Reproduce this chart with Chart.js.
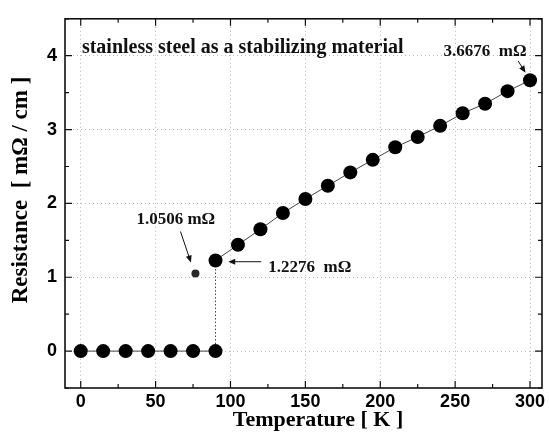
<!DOCTYPE html>
<html>
<head>
<meta charset="utf-8">
<script src="https://cdn.jsdelivr.net/npm/chart.js@4/dist/chart.umd.min.js"></script>
<style>
  html, body { margin: 0; padding: 0; background: #fff; }
  #wrap { width: 549px; height: 432px; }
</style>
</head>
<body>
<div id="wrap"><canvas id="chart" width="549" height="432"></canvas></div>
<script>
// Data
const temps = [0, 15, 30, 45, 60, 75, 90, 90, 105, 120, 135, 150, 165, 180, 195, 210, 225, 240, 255, 270, 285, 300];
const resist = [0, 0, 0, 0, 0, 0, 0, 1.2276, 1.44, 1.65, 1.87, 2.06, 2.24, 2.42, 2.59, 2.76, 2.90, 3.05, 3.22, 3.35, 3.52, 3.6676];
const outlierTemp = [76.6];
const outlierRes = [1.0506];

const xTicks = [0, 50, 100, 150, 200, 250, 300];
const yTicks = [0, 1, 2, 3, 4];
const xTitle = 'Temperature [ K ]';
const yTitle = 'Resistance  [ m\u03A9 / cm ]';

// Text notes, anchored in data units (x, y) with optional arrow (from -> to)
const notes = [
    { text: 'stainless steel as a stabilizing material', x: 0.8, y: 4.11, size: 20, align: 'left' },
    { text: '3.6676  m\u03A9', x: 270, y: 4.06, size: 17, align: 'center', arrow: [292, 3.93, 297, 3.77] },
    { text: '1.0506 m\u03A9', x: 63.5, y: 1.78, size: 17, align: 'center', arrow: [66.6, 1.62, 73.6, 1.20] },
    { text: '1.2276  m\u03A9', x: 153, y: 1.13, size: 17, align: 'center', arrow: [120.5, 1.21, 98.5, 1.21] }
];

const points = temps.map((t, i) => ({ x: t, y: resist[i] }));
const outlier = outlierTemp.map((t, i) => ({ x: t, y: outlierRes[i] }));

const serif = '"Liberation Serif", "Times New Roman", serif';

// Inside ticks, frame, axis titles and notes
const decorPlugin = {
    id: 'decor',
    afterDraw(chart) {
        const ctx = chart.ctx;
        const area = chart.chartArea;
        const xs = chart.scales.x;
        const ys = chart.scales.y;
        ctx.save();
        ctx.strokeStyle = '#111';
        ctx.lineWidth = 1.2;
        ctx.beginPath();
        for (let v = 0; v <= 300; v += 25) {
            const px = xs.getPixelForValue(v);
            const len = v % 50 === 0 ? 7 : 4;
            ctx.moveTo(px, area.bottom); ctx.lineTo(px, area.bottom - len);
            ctx.moveTo(px, area.top); ctx.lineTo(px, area.top + len);
        }
        for (let v = -0.5; v <= 4.5; v += 0.5) {
            const py = ys.getPixelForValue(v);
            const len = Math.abs(v % 1) < 1e-9 ? 7 : 4;
            ctx.moveTo(area.left, py); ctx.lineTo(area.left + len, py);
            ctx.moveTo(area.right, py); ctx.lineTo(area.right - len, py);
        }
        ctx.stroke();

        // frame
        ctx.lineWidth = 1.6;
        ctx.strokeRect(area.left, area.top, area.right - area.left, area.bottom - area.top);

        // axis titles
        ctx.fillStyle = '#000';
        ctx.textAlign = 'center';
        ctx.textBaseline = 'middle';
        ctx.font = 'bold 22px ' + serif;
        ctx.fillText(xTitle, 318, 420);
        ctx.save();
        ctx.translate(21, 190);
        ctx.rotate(-Math.PI / 2);
        ctx.font = 'bold 23px ' + serif;
        ctx.fillText(yTitle, 0, 0);
        ctx.restore();

        // notes
        ctx.fillStyle = '#111';
        notes.forEach(n => {
            ctx.font = 'bold ' + n.size + 'px ' + serif;
            ctx.textAlign = n.align;
            ctx.textBaseline = 'middle';
            ctx.fillText(n.text, xs.getPixelForValue(n.x), ys.getPixelForValue(n.y));
            if (n.arrow) {
                const x1 = xs.getPixelForValue(n.arrow[0]), y1 = ys.getPixelForValue(n.arrow[1]);
                const x2 = xs.getPixelForValue(n.arrow[2]), y2 = ys.getPixelForValue(n.arrow[3]);
                const ang = Math.atan2(y2 - y1, x2 - x1);
                ctx.lineWidth = 1;
                ctx.beginPath();
                ctx.moveTo(x1, y1); ctx.lineTo(x2 - 5 * Math.cos(ang), y2 - 5 * Math.sin(ang));
                ctx.stroke();
                ctx.beginPath();
                ctx.moveTo(x2, y2);
                ctx.lineTo(x2 - 7 * Math.cos(ang) + 3 * Math.sin(ang), y2 - 7 * Math.sin(ang) - 3 * Math.cos(ang));
                ctx.lineTo(x2 - 7 * Math.cos(ang) - 3 * Math.sin(ang), y2 - 7 * Math.sin(ang) + 3 * Math.cos(ang));
                ctx.closePath();
                ctx.fill();
            }
        });
        ctx.restore();
    }
};

const gridStyle = { color: '#b8b8b8', lineWidth: 1, drawTicks: false };
const tickFont = { family: '"Liberation Sans", Arial, sans-serif', size: 18, weight: 'bold' };

new Chart(document.getElementById('chart').getContext('2d'), {
    type: 'scatter',
    data: {
        datasets: [{
            data: points,
            showLine: true,
            borderColor: '#444',
            borderWidth: 1,
            backgroundColor: '#000',
            pointRadius: 7,
            pointBorderWidth: 0,
            segment: {
                borderDash: c => c.p0.parsed.x === c.p1.parsed.x ? [1.5, 2] : undefined
            }
        }, {
            data: outlier,
            showLine: false,
            backgroundColor: '#2a2a2a',
            pointRadius: 4,
            pointBorderWidth: 0
        }]
    },
    options: {
        responsive: false,
        animation: false,
        layout: { padding: { top: 10, right: 5, left: 0, bottom: 0 } },
        plugins: { legend: { display: false }, tooltip: { enabled: false } },
        scales: {
            x: {
                type: 'linear', min: -10.5, max: 308,
                afterBuildTicks: s => { s.ticks = xTicks.map(v => ({ value: v })); },
                afterFit: s => { s.height = 44; },
                grid: gridStyle,
                border: { display: false, dash: [1, 3] },
                ticks: { padding: 3, color: '#000', font: tickFont }
            },
            y: {
                type: 'linear', min: -0.5, max: 4.5,
                afterBuildTicks: s => { s.ticks = yTicks.map(v => ({ value: v })); },
                afterFit: s => { s.width = 65; },
                grid: gridStyle,
                border: { display: false, dash: [1, 3] },
                ticks: { padding: 8, color: '#000', font: tickFont }
            }
        }
    },
    plugins: [decorPlugin]
});
</script>
</body>
</html>
